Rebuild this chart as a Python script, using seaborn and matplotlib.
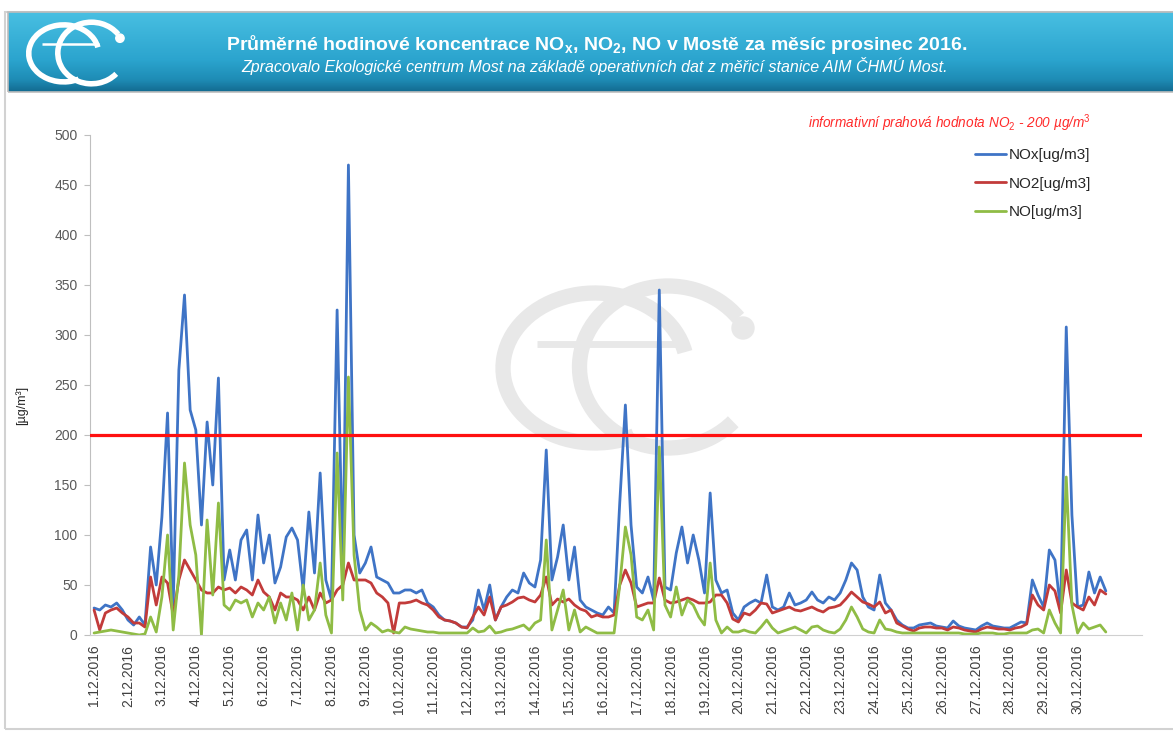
import numpy as np
import pandas as pd
import matplotlib
matplotlib.use("Agg")
import matplotlib.pyplot as plt
from matplotlib.patches import Arc, Circle, Rectangle
from matplotlib.lines import Line2D
from matplotlib.colors import LinearSegmentedColormap
import seaborn as sns

# hodnoty, krok 4 hodiny od 1.12.2016 0:00 (jeden řádek = jeden den)
nox = [
    27, 25, 30, 28, 32, 25,
    15, 10, 18, 10, 88, 50,
    118, 222, 30, 265, 340, 225,
    205, 110, 213, 150, 257, 55,
    85, 55, 95, 105, 55, 120,
    72, 100, 52, 68, 98, 107,
    95, 45, 123, 62, 162, 55,
    35, 325, 60, 470, 100, 62,
    72, 88, 58, 55, 52, 42,
    42, 45, 45, 42, 45, 32,
    28, 20, 15, 14, 12, 8,
    8, 15, 45, 25, 50, 15,
    28, 38, 45, 42, 62, 52,
    48, 75, 185, 55, 78, 110,
    55, 88, 35, 28, 25, 22,
    20, 28, 22, 132, 230, 110,
    48, 42, 58, 35, 345, 48,
    45, 82, 108, 72, 100, 75,
    42, 142, 55, 42, 45, 22,
    15, 28, 32, 35, 32, 60,
    28, 25, 28, 42, 30, 32,
    35, 43, 35, 32, 38, 35,
    42, 55, 72, 65, 38, 28,
    25, 60, 32, 25, 15, 10,
    7, 7, 10, 11, 12, 9,
    8, 7, 14, 9, 7, 6,
    5, 9, 12, 9, 8, 7,
    7, 10, 13, 12, 55, 40,
    28, 85, 75, 25, 308, 120,
    28, 30, 63, 42, 58, 44,
]
no2 = [
    25, 5, 22, 25, 27, 22,
    18, 12, 12, 8, 58, 30,
    58, 52, 20, 55, 75, 65,
    55, 45, 42, 42, 48, 45,
    47, 42, 48, 45, 40, 55,
    43, 38, 25, 42, 38, 38,
    35, 25, 38, 25, 42, 32,
    35, 45, 50, 72, 55, 55,
    55, 52, 42, 38, 32, 2,
    32, 32, 33, 35, 32, 30,
    25, 18, 15, 14, 12, 8,
    7, 18, 28, 20, 38, 15,
    28, 30, 33, 37, 38, 35,
    33, 40, 58, 30, 36, 33,
    36, 30, 26, 24, 18, 20,
    18, 18, 20, 50, 65, 52,
    28, 30, 32, 32, 57, 35,
    32, 33, 35, 37, 35, 32,
    32, 33, 40, 40, 32, 16,
    13, 22, 20, 25, 32, 31,
    22, 24, 26, 28, 25, 24,
    26, 28, 25, 23, 27, 28,
    30, 36, 43, 38, 33, 31,
    28, 33, 22, 25, 12, 9,
    6, 4, 7, 8, 8, 7,
    7, 5, 8, 7, 5, 4,
    3, 6, 8, 7, 6, 6,
    5, 7, 8, 11, 40, 30,
    25, 50, 44, 22, 65, 32,
    28, 25, 38, 30, 45, 41,
]
no = [
    2, 3, 4, 5, 4, 3,
    2, 1, 0, 1, 18, 3,
    38, 100, 5, 60, 172, 110,
    80, 0, 115, 40, 132, 30,
    25, 35, 32, 35, 18, 32,
    25, 38, 12, 32, 15, 42,
    5, 50, 15, 25, 72, 20,
    2, 182, 35, 258, 80, 25,
    5, 12, 8, 3, 5, 3,
    2, 8, 6, 5, 4, 3,
    3, 2, 2, 2, 2, 2,
    2, 7, 3, 4, 9, 2,
    3, 5, 6, 8, 10, 5,
    12, 15, 95, 5, 25, 45,
    5, 25, 3, 8, 5, 2,
    2, 2, 2, 50, 108, 80,
    18, 15, 25, 5, 188, 30,
    18, 48, 20, 35, 30, 18,
    10, 72, 15, 2, 8, 3,
    3, 5, 3, 2, 8, 15,
    7, 2, 4, 6, 8, 5,
    2, 8, 9, 5, 3, 2,
    6, 15, 28, 18, 6, 3,
    2, 15, 6, 5, 3, 2,
    2, 2, 2, 2, 2, 2,
    2, 2, 2, 2, 1, 1,
    1, 2, 2, 2, 1, 1,
    2, 2, 2, 2, 5, 6,
    2, 25, 12, 2, 158, 30,
    2, 12, 6, 8, 10, 3,
]
step_h = 4
day_labels = [f"{d}.12.2016" for d in range(1, 31)]
series_names = ["NOx[ug/m3]", "NO2[ug/m3]", "NO[ug/m3]"]
series_colors = ["#3F74C6", "#C23B3A", "#8FBC45"]
limit_no2 = 200

W, H = 1173, 733
FONT = ["Liberation Sans", "DejaVu Sans"]

t = np.arange(len(nox)) * step_h / 24
df = pd.DataFrame({
    "t": np.tile(t, 3),
    "hodnota": nox + no2 + no,
    "serie": np.repeat(series_names, len(nox)),
})

sns.set_style("white")
plt.rcParams["font.family"] = FONT
plt.rcParams["mathtext.fontset"] = "custom"
plt.rcParams["mathtext.rm"] = "Liberation Sans"
plt.rcParams["mathtext.it"] = "Liberation Sans:italic"
plt.rcParams["mathtext.bf"] = "Liberation Sans:bold"

fig = plt.figure(figsize=(W / 100, H / 100), dpi=100)

# pozadí v pixelových souřadnicích (hlavička, logo, vodoznak)
bg = fig.add_axes([0, 0, 1, 1], zorder=0)
bg.axis("off")


def draw_logo(a, cx, cy, s, color, lw):
    a.add_patch(Arc((cx - 35 * s, cy - 1 * s), 184 * s, 150 * s, theta1=10, theta2=300,
                    color=color, lw=lw))
    a.plot([cx - 93 * s, cx + 57 * s], [cy + 23 * s, cy + 23 * s], color=color, lw=lw * 0.45,
           solid_capstyle="butt")
    a.add_patch(Arc((cx + 38 * s, cy), 177 * s, 162 * s, theta1=35, theta2=320,
                    color=color, lw=lw))
    a.add_patch(Circle((cx + 113 * s, cy + 39 * s), 11 * s, color=color))


grad = np.linspace(0, 1, 100).reshape(-1, 1)
cmap = LinearSegmentedColormap.from_list(
    "hlavicka", [(0, "#48BFE2"), (0.6, "#2BA4CE"), (0.85, "#1E8CB5"), (1, "#136B91")])
bg.imshow(grad, extent=(8, W, H - 92, H - 12), aspect="auto", cmap=cmap, zorder=1)
bg.add_patch(Rectangle((8, H - 92), W, 80, fill=False, ec="#BDBDBD", lw=1.2, zorder=2))
bg.add_patch(Rectangle((5, 4), W + 10, H - 16, fill=False, ec="#D2D2D2", lw=1.5, zorder=0))
draw_logo(bg, 77, H - 53, 0.38, "white", 4)
draw_logo(bg, 630, H - 367, 1.0, "#E8E8E8", 11)

bg.text(597, H - 45,
        r"Průměrné hodinové koncentrace NO$_\mathbf{x}$, NO$_\mathbf{2}$, NO v Mostě za měsíc prosinec 2016.",
        color="white", fontsize=14, fontweight="bold", ha="center", va="center", zorder=3)
bg.text(595, H - 66,
        "Zpracovalo Ekologické centrum Most na základě operativních dat z měřicí stanice AIM ČHMÚ Most.",
        color="white", fontsize=11.5, style="italic", ha="center", va="center", zorder=3)
bg.text(22, H - 405, "[µg/m³]", rotation=90, fontsize=9, color="#262626", ha="center", va="center")
bg.text(808, H - 123, r"informativní prahová hodnota NO$_\mathit{2}$ - 200 µg/m$^\mathit{3}$",
        color="#FF2A2A", fontsize=9.8, style="italic", ha="left", va="center")
bg.set_xlim(0, W)
bg.set_ylim(0, H)

# hlavní graf
ax = fig.add_axes([90 / W, 1 - 635 / H, (1142 - 90) / W, 500 / H], zorder=1)
ax.patch.set_alpha(0)
sns.lineplot(data=df, x="t", y="hodnota", hue="serie", hue_order=series_names,
             palette=series_colors, linewidth=2, estimator=None, legend=False, ax=ax)
ax.axhline(limit_no2, color="#FF1010", lw=2.3, zorder=5)

ax.set_xlim(-0.12, 30.9)
ax.set_ylim(0, 500)
ax.set_yticks(range(0, 501, 50))
ax.set_xticks(range(len(day_labels)))
ax.set_xticklabels(day_labels, rotation=90, fontsize=10, color="#404040")
ax.tick_params(axis="y", labelsize=10, labelcolor="#595959", length=4, color="#BFBFBF",
               left=True, pad=5)
ax.tick_params(axis="x", length=0, pad=7)
ax.set_xlabel("")
ax.set_ylabel("")
for side in ["top", "right"]:
    ax.spines[side].set_visible(False)
ax.spines["left"].set_color("#BFBFBF")
ax.spines["bottom"].set_color("#D0D0D0")

handles = [Line2D([], [], color=c, lw=2) for c in series_colors]
ax.legend(handles, series_names, loc="upper left", bbox_to_anchor=(975 / W, 1 - 148 / H),
          bbox_transform=fig.transFigure, frameon=False, fontsize=11, handlelength=2.0,
          handletextpad=0.2, labelspacing=0.95, borderpad=0, borderaxespad=0)

fig.savefig("out.png", dpi=100)
